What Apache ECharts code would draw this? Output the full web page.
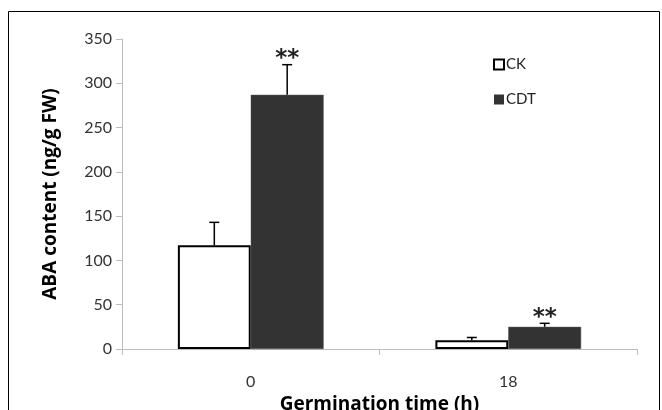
<!DOCTYPE html>
<html><head><meta charset="utf-8">
<script src="https://cdn.jsdelivr.net/npm/echarts@6/dist/echarts.min.js"></script>
<style>html,body{margin:0;padding:0;background:#fff}#c{width:662px;height:410px}</style>
</head><body><div id="c"></div>
<script>
const categories = ['0', '18'];
const ckValues = [117, 10];
const ckErrors = [26, 3];
const cdtValues = [287, 25];
const cdtErrors = [34, 4];
const cdtSignif = ['**', '**'];
const yTicks = [0, 50, 100, 150, 200, 250, 300, 350];

const FONT = 'Lato, "Open Sans", sans-serif';
const TITLE_FONT = '"Open Sans", Lato, sans-serif';
const BAR_FRAC = 0.283;

function errSeries(name, values, errors, side, marks) {
  return {
    type: 'custom', name: name + ' err', silent: true, z: 5,
    data: values.map((v, i) => [i, v, errors[i]]),
    renderItem: function (params, api) {
      const i = api.value(0), v = api.value(1), e = api.value(2);
      const band = api.size([1, 0])[0];
      const off = side * band * BAR_FRAC / 2;
      const base = api.coord([i, v]);
      const top = api.coord([i, v + e]);
      const x = base[0] + off;
      const children = [
        { type: 'line', shape: { x1: x, y1: base[1], x2: x, y2: top[1] }, style: { stroke: '#000', lineWidth: 1.5 } },
        { type: 'line', shape: { x1: x - 5, y1: top[1], x2: x + 5, y2: top[1] }, style: { stroke: '#000', lineWidth: 1.5 } }
      ];
      if (marks && marks[i]) {
        children.push({ type: 'text', style: { text: marks[i], x: x, y: top[1] + 6, align: 'center', verticalAlign: 'bottom', fontSize: 23, fontWeight: 'bold', fontFamily: 'DejaVu Sans', fill: '#222' } });
      }
      return { type: 'group', children: children };
    }
  };
}

const chart = echarts.init(document.getElementById('c'));
chart.setOption({
  animation: false,
  backgroundColor: '#fff',
  graphic: [{ type: 'rect', shape: { x: 8.5, y: 11.5, width: 651, height: 420 }, style: { fill: 'none', stroke: '#000', lineWidth: 1 }, silent: true }],
  grid: { left: 122, right: 25, top: 39, bottom: 61, outerBoundsMode: 'none', containLabel: false },
  legend: {
    orient: 'vertical', left: 488, top: 52, itemGap: 20, itemWidth: 10, itemHeight: 10,
    icon: 'rect',
    textStyle: { fontFamily: FONT, fontSize: 15, color: '#222', padding: [0, 0, 0, -3] },
    data: [
      { name: 'CK', itemStyle: { color: '#fff', borderColor: '#000', borderWidth: 2 } },
      { name: 'CDT', itemStyle: { color: '#333', borderColor: '#333', borderWidth: 0 } }
    ]
  },
  xAxis: {
    type: 'category', data: categories,
    name: 'Germination time (h)', nameLocation: 'middle', nameGap: 43,
    nameTextStyle: { fontFamily: TITLE_FONT, fontSize: 19, fontWeight: 'bold', color: '#000' },
    axisLine: { lineStyle: { color: '#bdbdbd', width: 1 } },
    axisTick: { show: true, length: 6, lineStyle: { color: '#bdbdbd' } },
    axisLabel: { fontFamily: FONT, fontSize: 16, color: '#333', margin: 25 }
  },
  yAxis: {
    type: 'value', min: 0, max: 350, interval: 50,
    name: 'ABA content (ng/g FW)', nameLocation: 'middle', nameGap: 62,
    nameTextStyle: { fontFamily: TITLE_FONT, fontSize: 19, fontWeight: 'bold', color: '#000' },
    axisLine: { show: true, lineStyle: { color: '#bdbdbd', width: 1 } },
    axisTick: { show: true, length: 6, lineStyle: { color: '#bdbdbd' } },
    splitLine: { show: false },
    axisLabel: { fontFamily: FONT, fontSize: 16, color: '#333', margin: 10,
      formatter: v => yTicks.includes(v) ? String(v) : '' }
  },
  series: [
    { type: 'bar', name: 'CK', data: ckValues, barWidth: (BAR_FRAC * 100) + '%', barGap: '0%',
      itemStyle: { color: '#fff', borderColor: '#000', borderWidth: 2 } },
    { type: 'bar', name: 'CDT', data: cdtValues, barWidth: (BAR_FRAC * 100) + '%', barGap: '0%',
      itemStyle: { color: '#333', borderColor: '#555', borderWidth: 0.5 } },
    errSeries('CK', ckValues, ckErrors, -1, null),
    errSeries('CDT', cdtValues, cdtErrors, 1, cdtSignif)
  ]
});
</script></body></html>
